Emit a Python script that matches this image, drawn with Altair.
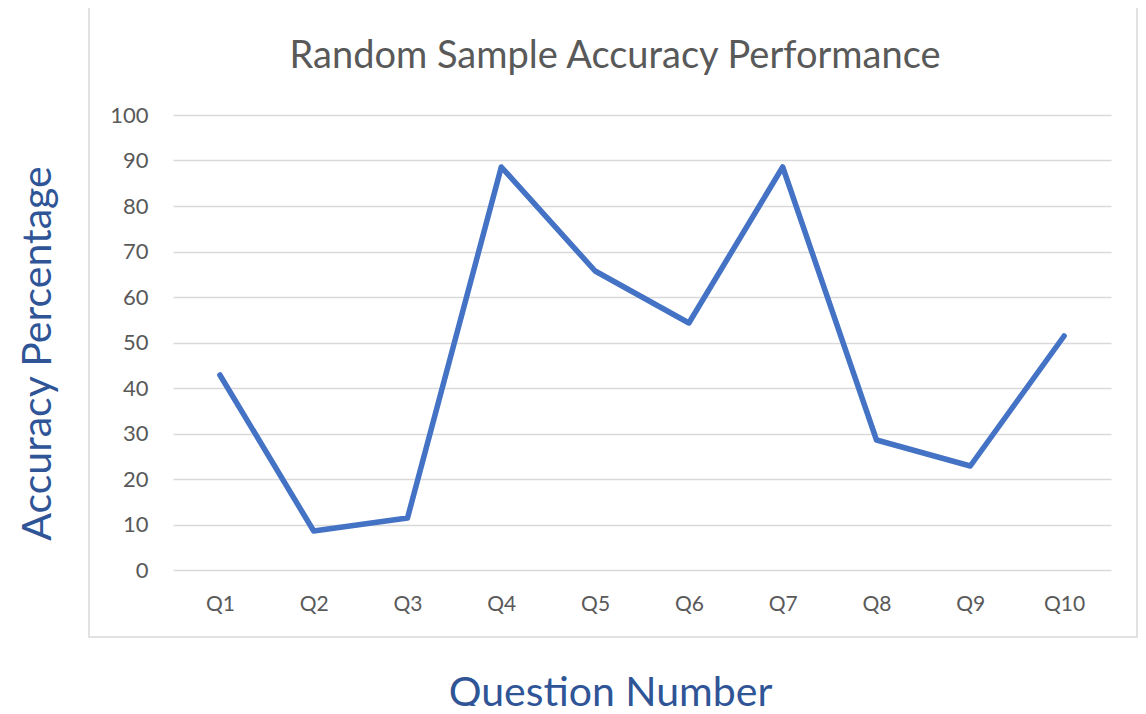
import altair as alt
import pandas as pd

questions = ["Q1", "Q2", "Q3", "Q4", "Q5", "Q6", "Q7", "Q8", "Q9", "Q10"]
accuracy = [42.86, 8.57, 11.43, 88.57, 65.71, 54.29, 88.57, 28.57, 22.86, 51.43]
y_ticks = [0, 10, 20, 30, 40, 50, 60, 70, 80, 90, 100]

df = pd.DataFrame({"Question": questions, "Accuracy": accuracy})

FONT = "Lato"
GRAY = "#595959"
BLUE_TITLE = "#2F5597"

W, H = 938, 455

frame = alt.Chart(pd.DataFrame({"a": [0]})).mark_rect(
    fill=None, stroke="#D9D9D9", strokeWidth=1.5
).encode(
    x=alt.value(-84), x2=alt.value(964), y=alt.value(-108), y2=alt.value(522)
)

line = alt.Chart(df).mark_line(color="#4472C4", strokeWidth=5.5, strokeJoin="round", strokeCap="round").encode(
    x=alt.X(
        "Question:N",
        sort=questions,
        scale=alt.Scale(paddingInner=0, paddingOuter=0, align=0.5),
        axis=alt.Axis(
            title="Question Number",
            titleFont=FONT, titleFontSize=41, titleFontWeight="normal", titleColor=BLUE_TITLE,
            titleX=437, titleY=135, titleAlign="center", titleBaseline="alphabetic",
            labelFont=FONT, labelFontSize=21, labelColor=GRAY, labelAngle=0, labelPadding=23,
            domain=False, ticks=False, grid=False,
        ),
    ),
    y=alt.Y(
        "Accuracy:Q",
        scale=alt.Scale(domain=[0, 100], nice=False),
        axis=alt.Axis(
            title="Accuracy Percentage", values=y_ticks,
            titleFont=FONT, titleFontSize=41, titleFontWeight="normal", titleColor=BLUE_TITLE,
            titleX=-135, titleY=238, titleAlign="center", titleBaseline="middle", titleAngle=270,
            labelFont=FONT, labelFontSize=22, labelColor=GRAY, labelPadding=25,
            domain=False, ticks=False, grid=True, gridColor="#D9D9D9", gridWidth=1.5,
        ),
    ),
)

chart = alt.layer(frame, line).properties(
    width=W, height=H,
    autosize=alt.AutoSizeParams(type="none"),
    padding={"left": 165, "top": 107, "right": 27, "bottom": 136},
    title=alt.TitleParams(
        "Random Sample Accuracy Performance",
        font=FONT, fontSize=38, fontWeight="normal", color=GRAY,
        anchor="middle", dx=-27, offset=-70,
    ),
).configure_view(stroke=None)

chart.save("out.html", embed_options={"renderer": "svg", "actions": False})
